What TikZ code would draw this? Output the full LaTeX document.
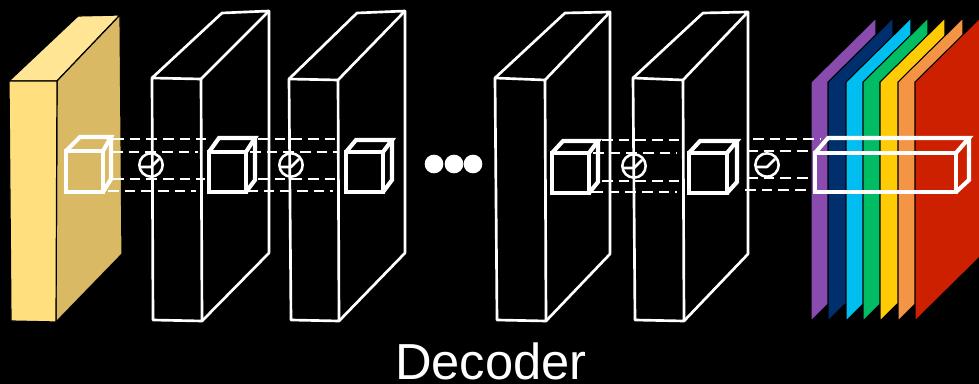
\documentclass[tikz,border=0pt]{standalone}
\usepackage{fontspec}
\setmainfont{Liberation Sans}
\usetikzlibrary{calc}
\definecolor{yfront}{HTML}{FFDF7E}
\definecolor{ytop}{HTML}{FFE594}
\definecolor{yside}{HTML}{D9B963}
\definecolor{lpurple}{HTML}{8A4BAF}
\definecolor{lnavy}{HTML}{002F6E}
\definecolor{lcyan}{HTML}{00BEF0}
\definecolor{lgreen}{HTML}{00BD63}
\definecolor{lyellow}{HTML}{FFCB05}
\definecolor{lorange}{HTML}{F39545}
\definecolor{lred}{HTML}{CC2000}
\tikzset{
  slab/.style={draw=white, line width=2pt, line join=round},
  cubeline/.style={draw=white, line width=3.1pt, line join=miter},
  dashline/.style={draw=white, line width=1.9pt, dash pattern=on 8pt off 4.5pt},
  opcircle/.style={circle, draw=white, line width=1.9pt, minimum size=17.5pt, inner sep=0pt},
  dotnode/.style={circle, fill=white, minimum size=14pt, inner sep=0pt},
  plane/.style={draw=black, line width=0.8pt, line join=miter},
}
% a box: front rectangle, top face and right face
% #2,#3 front top-left, #4,#5 front bottom-right, #6,#7 back top-left, #8 back right x, #9 back bottom y
\newcommand{\boxlines}[9][cubeline]{%
  \draw[#1] (#2,#3) rectangle (#4,#5);
  \draw[#1] (#2,#3) -- (#6,#7) -- (#8,#7) -- (#4,#3);
  \draw[#1] (#8,#7) -- (#8,#9) -- (#4,#5);
}
\newcommand{\layerplane}[2]{%
  \filldraw[plane, fill=#2] (#1,321) -- (#1,82) -- ($(#1,82)+(65,-64)$) -- ($(#1,321)+(65,-64)$) -- cycle;
}
\begin{document}
\begin{tikzpicture}[x=0.75pt, y=-0.75pt]
\fill[black] (0,0) rectangle (979,384);
\useasboundingbox (0,0) rectangle (979,384);

% input feature block (yellow)
\filldraw[fill=ytop, draw=black, line width=0.9pt] (9,81) -- (78,16) -- (120,15) -- (57,81) -- cycle;
\filldraw[fill=yside, draw=black, line width=0.9pt] (57,81) -- (120,15) -- (122,254) -- (56,322) -- cycle;
\filldraw[fill=yfront, draw=black, line width=0.9pt] (9,81) -- (57,81) -- (56,322) -- (11,321) -- cycle;

% decoder blocks (outlined)
\draw[slab] (152,78) -- (201,79) -- (202,321) -- (153,320) -- cycle;
\draw[slab] (152,78) -- (222,13) -- (269,11) -- (201,79);
\draw[slab] (269,11) -- (269,253) -- (202,321);

\draw[slab] (289,79) -- (338,80) -- (339,321) -- (291,320) -- cycle;
\draw[slab] (289,79) -- (357,13) -- (405,11) -- (338,80);
\draw[slab] (405,11) -- (405,253) -- (339,321);

\draw[slab] (495,78) -- (545,80) -- (546,321) -- (497,320) -- cycle;
\draw[slab] (495,78) -- (565,13) -- (610,12) -- (545,80);
\draw[slab] (610,12) -- (610,254) -- (546,321);

\draw[slab] (633,78) -- (683,80) -- (684,321) -- (635,320) -- cycle;
\draw[slab] (633,78) -- (703,13) -- (748,12) -- (683,80);
\draw[slab] (748,12) -- (748,254) -- (684,321);

% output planes
\layerplane{811}{lpurple}
\layerplane{828}{lnavy}
\layerplane{846}{lcyan}
\layerplane{863}{lgreen}
\layerplane{880}{lyellow}
\layerplane{898}{lorange}
\layerplane{915}{lred}

% dashed links between cubes
\draw[dashline] (113,139) -- (206,139);
\draw[dashline] (112,152) -- (198,152);
\draw[dashline] (113,179) -- (205,179);
\draw[dashline] (108,191) -- (196,191);

\draw[dashline] (258,139) -- (340,139);
\draw[dashline] (250,152) -- (337,152);
\draw[dashline] (258,179) -- (340,179);
\draw[dashline] (247,191) -- (333,191);

\draw[dashline] (602,140) -- (685,140);
\draw[dashline] (593,153) -- (677,153);
\draw[dashline] (602,181) -- (683,181);
\draw[dashline] (592,192) -- (677,192);

\draw[dashline] (753,139) -- (821,139);
\draw[dashline] (747,151) -- (812,151);
\draw[dashline] (747,178) -- (817,178);
\draw[dashline] (745,190) -- (810,190);

% cubes
\boxlines{66}{151}{103}{192}{80}{137}{111}{179}
\boxlines{209}{152}{246}{192}{219}{138}{255}{180}
\boxlines{346}{152}{383}{192}{356}{140}{392}{180}
\boxlines{552}{153}{589}{193}{563}{141}{598}{182}
\boxlines{689}{153}{727}{193}{700}{141}{737}{182}
\boxlines{815}{153}{956}{192}{828}{138}{969}{180}

% operator circles
\foreach \n/\cx/\cy in {o1/151/165, o2/291/165, o3/634/166, o4/767/165}{
  \node[opcircle] (\n) at (\cx,\cy) {};
  \draw[white, line width=1.9pt, line join=round]
    ($(\n.center)+(-11,2)$) -- ($(\n.center)+(0,2)$) -- ($(\n.center)+(8,-6)$);
}

% ellipsis dots
\node[dotnode] (d1) at (434,164) {};
\node[dotnode] (d2) at (454,164) {};
\node[dotnode] (d3) at (473,164) {};

% caption
\node[white, font=\fontsize{38}{40}\selectfont, anchor=base] (cap) at (491,380) {Decoder};
\end{tikzpicture}
\end{document}
